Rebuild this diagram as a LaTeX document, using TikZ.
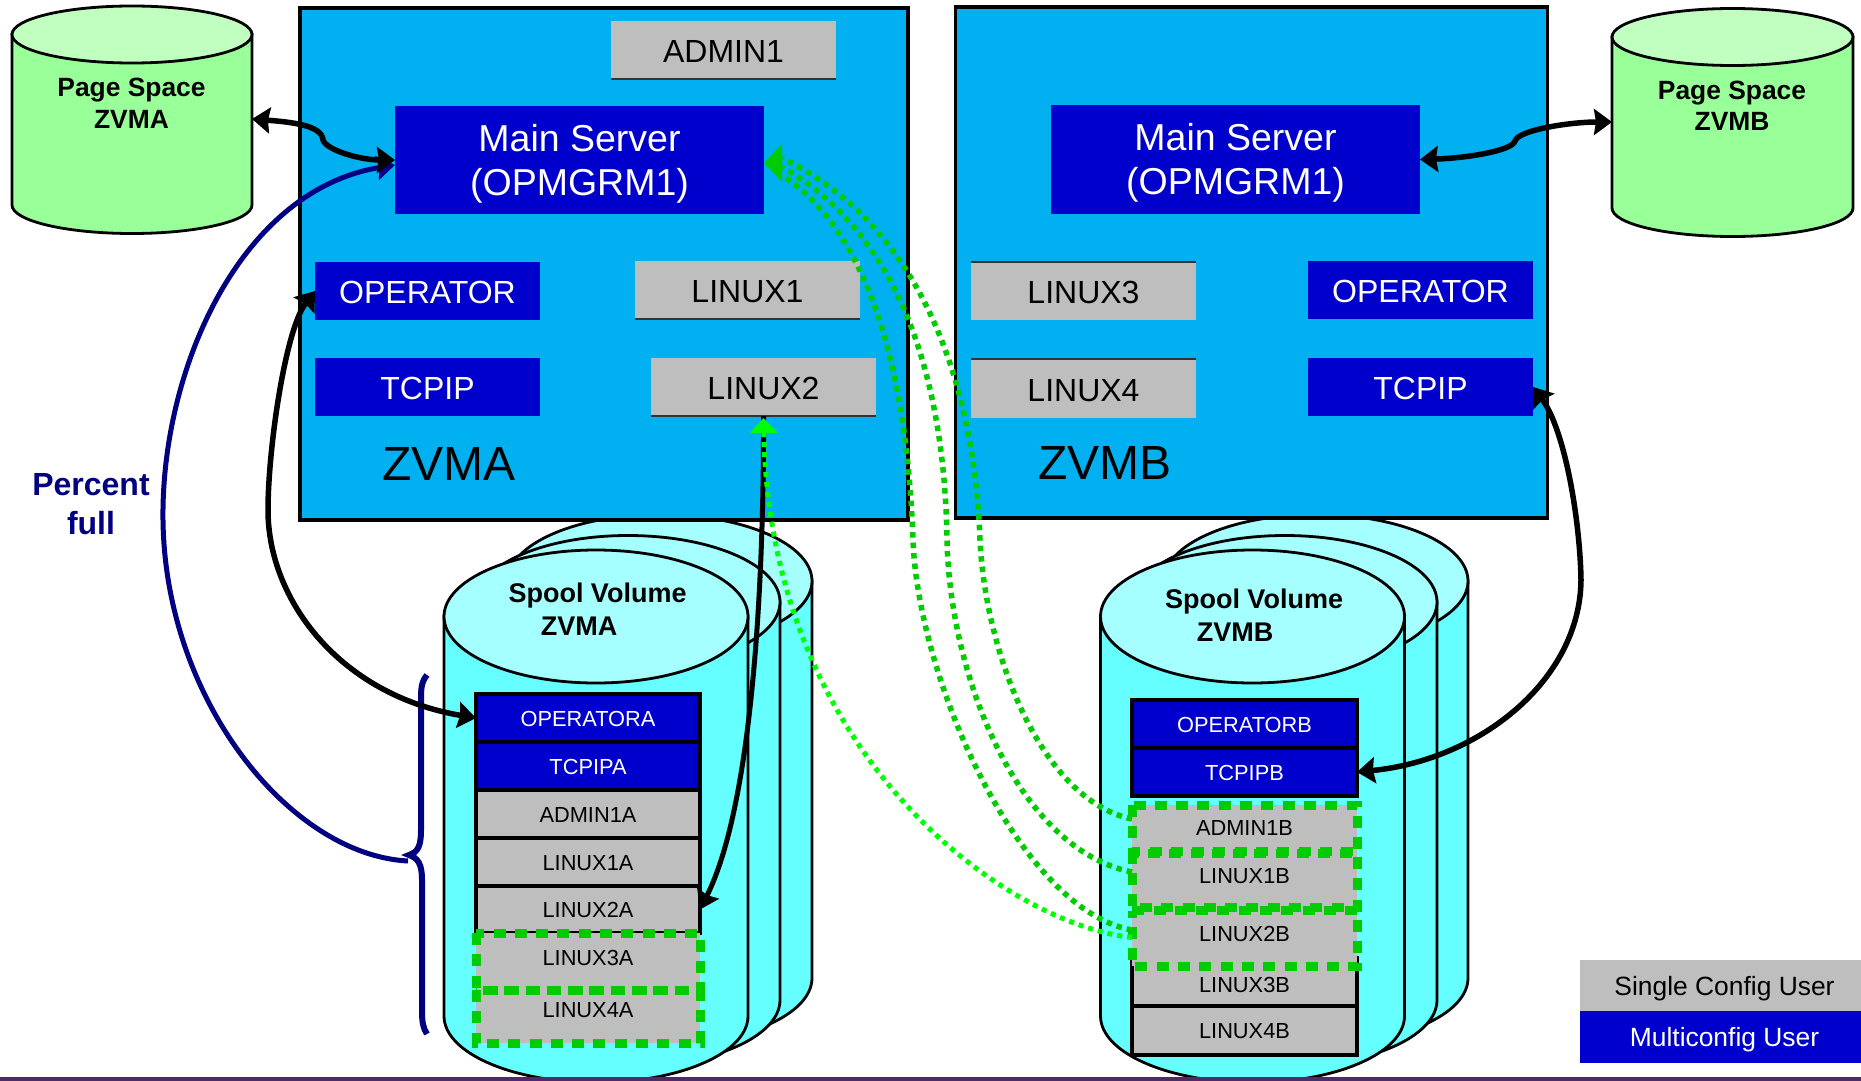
\documentclass[tikz,border=0pt]{standalone}
\usepackage{fontspec}
\setmainfont{Liberation Sans}
\usetikzlibrary{arrows.meta}
\definecolor{zbox}{HTML}{00B0F0}
\definecolor{dblue}{HTML}{0000CC}
\definecolor{ugray}{HTML}{BEBEBE}
\definecolor{cyside}{HTML}{66FFFF}
\definecolor{cytop}{HTML}{A5FFFF}
\definecolor{grside}{HTML}{99FF99}
\definecolor{grtop}{HTML}{C1FFC1}
\definecolor{dnavy}{HTML}{000080}
\definecolor{dgreen}{HTML}{00CC00}
\definecolor{bgreen}{HTML}{00FF00}
\definecolor{barc}{HTML}{4F2A6B}
\tikzset{
  base/.style={inner sep=0pt,outer sep=0pt,align=center},
  tA/.style={base,text=white,font=\fontsize{37.5}{44}\selectfont},
  tB/.style={font=\fontsize{32}{38}\selectfont,text height=25pt,text depth=0pt},
  tC/.style={font=\fontsize{21.8}{25}\selectfont,text height=16.4pt,text depth=0pt},
  tL/.style={font=\fontsize{26.4}{32}\selectfont,text height=19pt,text depth=0pt},
  tBold/.style={base,font=\fontsize{26.4}{31.5}\bfseries\selectfont},
  tSpool/.style={base,font=\fontsize{27}{32}\bfseries\selectfont},
  tName/.style={base,font=\fontsize{48}{56}\selectfont},
  blue/.style={base,fill=dblue,text=white},
  gray/.style={base,fill=ugray,text=black},
  slotline/.style={draw=black,line width=3.2pt},
  dots/.style={draw=dgreen,line width=9pt,dash pattern=on 12pt off 9.3pt},
  cylline/.style={draw=black,line width=2.8pt},
  blackarrow/.style={draw=black,line width=5.5pt,{Stealth[length=18pt,width=26pt,inset=2pt]}-{Stealth[length=18pt,width=26pt,inset=2pt]}},
  onearrow/.style={draw=black,line width=5pt,-{Stealth[length=18pt,width=24pt,inset=2pt]}},
  navyline/.style={draw=dnavy,line width=5pt},
  gdots/.style={draw=dgreen,line width=5.5pt,dash pattern=on 5.5pt off 5pt},
  bdots/.style={draw=bgreen,line width=5pt,dash pattern=on 5pt off 5pt},
}
\newcommand\bx[8]{%
  \pgfmathsetmacro\bw{#5-#3}\pgfmathsetmacro\bh{#6-#4}%
  \node[#2,#7,minimum width=\bw pt,minimum height=\bh pt] (#1) at ({(#3+#5)/2},{(#4+#6)/2}) {#8};}
\newcommand\cyl[7]{% xc rx ytop ybot ry side top
  \path[cylline,fill=#6] ({#1-#2},#3) -- ({#1-#2},#4)
    arc[start angle=180,end angle=360,x radius=#2pt,y radius=#5pt] -- ({#1+#2},#3) -- cycle;
  \path[cylline,fill=#7] (#1,#3) ellipse[x radius=#2pt,y radius=#5pt];}
\begin{document}
\begin{tikzpicture}[x=1pt,y=-1pt]
\useasboundingbox (0,0) rectangle (1861,1081);
\clip (0,0) rectangle (1861,1081);
% spool cylinders
\cyl{660}{152}{581}{978}{66.5}{cyside}{cytop}
\cyl{628}{152}{602}{1000}{66.5}{cyside}{cytop}
\cyl{596}{152}{616.5}{1016}{66.5}{cyside}{cytop}
\cyl{1316}{152}{581}{978}{66.5}{cyside}{cytop}
\cyl{1285}{152}{602}{1000}{66.5}{cyside}{cytop}
\cyl{1252.5}{152}{616.5}{1016}{66.5}{cyside}{cytop}
% page cylinders
\cyl{132}{120}{34.5}{205}{28.5}{grside}{grtop}
\cyl{1732.5}{120.5}{37}{208}{28.5}{grside}{grtop}
% systems
\node[base,draw=black,line width=3.5pt,fill=zbox,minimum width=608pt,minimum height=512pt] (sysA) at (604,264) {};
\node[base,draw=black,line width=3.5pt,fill=zbox,minimum width=592pt,minimum height=511pt] (sysB) at (1251.7,262.5) {};
\node[tName] (nameA) at (449,464) {ZVMA};
\node[tName] (nameB) at (1105,463) {ZVMB};
% users in ZVMA
\bx{admin}{gray}{611}{21}{836}{79}{tB}{ADMIN1}
\bx{mainA}{blue}{395}{106}{764}{214}{}{}
\node[tA] (mainAt) at (579.5,163.5) {Main Server\\(OPMGRM1)};
\bx{opA}{blue}{315}{262}{540}{320}{tB}{OPERATOR}
\bx{lx1}{gray}{635}{261}{860}{319}{tB}{LINUX1}
\bx{tcpA}{blue}{315}{358}{540}{416}{tB}{TCPIP}
\bx{lx2}{gray}{651}{358}{876}{416}{tB}{LINUX2}
\draw[line width=1.2pt,black!80] (admin.south west) -- (admin.south east);
\draw[line width=1.2pt,black!80] (lx1.south west) -- (lx1.south east);
\draw[line width=2pt,black!80] (lx2.south west) -- (lx2.south east);
% users in ZVMB
\bx{mainB}{blue}{1051}{105}{1420}{214}{}{}
\node[tA] (mainBt) at (1235.5,163) {Main Server\\(OPMGRM1)};
\bx{lx3}{gray}{971}{262}{1196}{320}{tB}{LINUX3}
\bx{opB}{blue}{1308}{261}{1533}{319}{tB}{OPERATOR}
\bx{lx4}{gray}{971}{359}{1196}{418}{tB}{LINUX4}
\bx{tcpB}{blue}{1308}{358}{1533}{416}{tB}{TCPIP}
\draw[line width=1.2pt,black!80] (lx3.north west) -- (lx3.north east);
\draw[line width=2pt,black!80] (lx4.north west) -- (lx4.north east);
% cylinder captions
\node[tBold] (pgA) at (131.5,103.5) {Page Space\\ZVMA};
\node[tBold] (pgB) at (1732,106) {Page Space\\ZVMB};
\node[tSpool] (spA1) at (597.5,596) {Spool Volume};
\node[tSpool] (spA2) at (579,626) {ZVMA};
\node[tSpool] (spB1) at (1254,602) {Spool Volume};
\node[tSpool] (spB2) at (1235,632) {ZVMB};
% spool slots A
\bx{opAa}{blue,slotline}{476}{694}{700}{742}{tC}{OPERATORA}
\bx{tcpAa}{blue,slotline}{476}{742}{700}{790}{tC}{TCPIPA}
\bx{admAa}{gray,slotline}{476}{790}{700}{838}{tC}{ADMIN1A}
\bx{lx1a}{gray,slotline}{476}{838}{700}{886}{tC}{LINUX1A}
\bx{lx2a}{gray,slotline}{476}{886}{700}{933}{tC}{LINUX2A}
\bx{lx3a}{gray}{476}{933}{700}{990}{tC}{\raisebox{4.5pt}{LINUX3A}}
\bx{lx4a}{gray}{476}{990}{700}{1043}{tC}{\raisebox{7.5pt}{LINUX4A}}
\draw[dots] (lx3a.north west) rectangle (lx3a.south east);
\draw[dots] (lx4a.north west) rectangle (lx4a.south east);
% spool slots B
\bx{opBb}{blue,slotline}{1132}{700}{1357}{748}{tC}{OPERATORB}
\bx{tcpBb}{blue,slotline}{1132}{748}{1357}{796}{tC}{TCPIPB}
\bx{lx3b}{gray,slotline}{1132}{958}{1357}{1006}{tC}{\raisebox{-2.5pt}{LINUX3B}}
\bx{lx4b}{gray,slotline}{1132}{1006}{1357}{1055}{tC}{LINUX4B}
\bx{admBb}{gray}{1132}{805}{1357}{853}{tC}{\raisebox{2pt}{ADMIN1B}}
\bx{lx1b}{gray}{1132}{853}{1357}{909}{tC}{\raisebox{6pt}{LINUX1B}}
\bx{lx2b}{gray}{1132}{909}{1357}{966}{tC}{\raisebox{4.5pt}{LINUX2B}}
\draw[dots] (admBb.north west) rectangle (admBb.south east);
\draw[dots] ([yshift=1.5pt]lx1b.north west) rectangle ([yshift=1.5pt]lx1b.south east);
\draw[dots,dash phase=5pt] ([yshift=-1.5pt]lx2b.north west) rectangle (lx2b.south east);
% legend
\bx{lgS}{gray}{1580}{960}{1861}{1011}{tL}{\hspace*{8pt}Single Config User}
\bx{lgM}{blue}{1580}{1011}{1861}{1063}{tL}{\hspace*{8pt}Multiconfig User}
% percent full
\node[base,text=dnavy,font=\fontsize{32}{39}\bfseries\selectfont] (pct) at (91,504) {Percent\\full};
\coordinate (pgAport) at (252,119);
\coordinate (pgBport) at (1612,122);
\coordinate (braceTip) at (408,861);
% brace
\draw[navyline,line width=6pt] (427,675) .. controls (421,682) and (421,690) .. (421,700) -- (421,830)
  .. controls (421,846) and (418,852) .. (409,855) .. controls (418,858) and (422,864) .. (422,880)
  -- (422,1010) .. controls (422,1022) and (423,1028) .. (427,1034);
% navy arrow
\draw[navyline,-{Stealth[length=18pt,width=24pt,inset=2pt]}] (braceTip) .. controls (290,855) and (165,700) .. (163,520)
  .. controls (161,370) and (240,190) .. ([yshift=-5pt]mainA.west);
% black arrows
\draw[blackarrow] (pgAport) .. controls (290,122) and (322,125) .. (323,140)
  .. controls (326,150) and (360,160) .. (mainA.west);
\draw[blackarrow] (mainB.east) .. controls (1470,158) and (1513,150) .. (1515,141)
  .. controls (1518,130) and (1570,122) .. (pgBport);
\draw[blackarrow] (opA.west) .. controls (285,330) and (268,450) .. (268,510)
  .. controls (268,600) and (340,695) .. (opAa.west);
\draw[blackarrow] (tcpB.east) .. controls (1565,430) and (1580,520) .. (1581,580)
  .. controls (1580,680) and (1480,760) .. (tcpBb.east);
\draw[onearrow] (lx2.south) .. controls (764,560) and (755,800) .. (lx2a.east);
% green dotted
\draw[bdots,-{Triangle[length=15pt,width=27pt,fill=bgreen]}] (lx2b.west) .. controls (1010,925) and (770,760) .. ([yshift=-2pt]lx2.south);
\draw[gdots] ([yshift=10pt]admBb.west) .. controls (1040,800) and (985,650) .. (980,540)
  .. controls (975,400) and (930,230) .. ([xshift=18pt,yshift=2pt]mainA.east);
\draw[gdots] ([yshift=9pt]lx1b.west) .. controls (1020,850) and (950,680) .. (947,540)
  .. controls (945,400) and (910,240) .. ([xshift=18pt,yshift=-7pt]mainA.east);
\draw[gdots] ([yshift=7.5pt]lx2b.west) .. controls (1020,910) and (918,680) .. (913,540)
  .. controls (908,400) and (880,240) .. ([xshift=18pt,yshift=-15pt]mainA.east);
\fill[dgreen] ([yshift=-3pt]mainA.east) -- ([xshift=18pt,yshift=16pt]mainA.east) -- ([xshift=18pt,yshift=-22pt]mainA.east) -- cycle;
% bottom rule
\fill[barc] (0,1076.5) rectangle (1861,1081);
\end{tikzpicture}
\end{document}
